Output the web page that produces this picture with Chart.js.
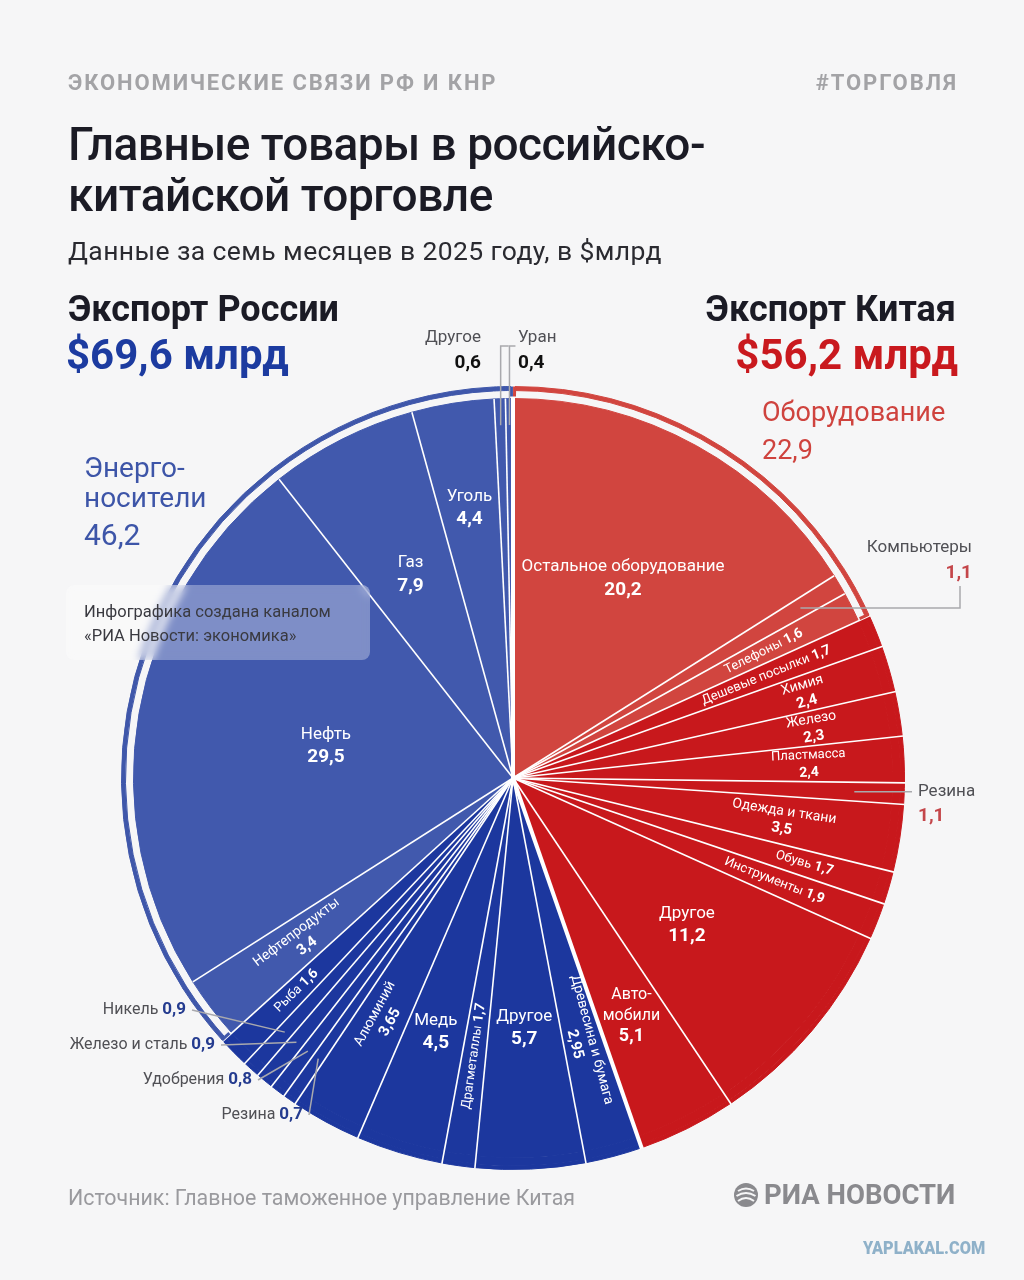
<!DOCTYPE html>
<html lang="ru">
<head>
<meta charset="utf-8">
<script src="https://cdn.jsdelivr.net/npm/chart.js@4.4.1/dist/chart.umd.min.js"></script>
<style>
  html, body { margin: 0; padding: 0; }
  body {
    width: 1024px; height: 1280px; overflow: hidden; position: relative;
    background: #f6f6f7; font-family: Roboto, "Noto Sans", sans-serif;
  }
  #chart { position: absolute; left: 0; top: 0; }
  .t { position: absolute; white-space: nowrap; line-height: 1; }
  .kicker { top: 72px; font-size: 22px; font-weight: 700; color: #a3a3a6; letter-spacing: 1.9px; }
  .title { left: 68px; top: 119px; font-size: 46px; font-weight: 500; line-height: 51px; color: #1b1b25; letter-spacing: -0.5px; }
  .sub { left: 68px; top: 238px; font-size: 26.5px; color: #2a2a30; letter-spacing: 0.4px; }
  .side { top: 291px; font-size: 36px; font-weight: 700; color: #1b1b25; }
  .total { top: 334px; font-size: 42px; font-weight: 700; }
  .grp { font-size: 28px; }
  .note {
    position: absolute; left: 66px; top: 585px; width: 304px; height: 75px;
    border-radius: 8px; background: rgba(255,255,255,0.32);
    backdrop-filter: blur(4px); z-index: 2;
  }
  .note div { position: absolute; left: 18px; font-size: 16.5px; color: #3a3a40; white-space: nowrap; line-height: 1; }
  .foot { left: 68px; top: 1187px; font-size: 21.4px; color: #9a9a9e; }
  .logo { left: 733px; top: 1181px; font-size: 27.5px; font-weight: 700; color: #8a8a8e; display: flex; align-items: center; gap: 5px; }
  .wm { left: 863px; top: 1240px; font-size: 17.5px; font-weight: 900; color: #8fb1c9; transform: scaleX(0.93); transform-origin: left; }
</style>
</head>
<body>
<canvas id="chart" width="1024" height="1280"></canvas>

<div class="t kicker" style="left:68px">ЭКОНОМИЧЕСКИЕ СВЯЗИ РФ И КНР</div>
<div class="t kicker" style="right:66px">#ТОРГОВЛЯ</div>
<div class="t title">Главные товары в российско-<br>китайской торговле</div>
<div class="t sub">Данные за семь месяцев в 2025 году, в $млрд</div>

<div class="t side" style="left:68px">Экспорт России</div>
<div class="t side" style="right:68px">Экспорт Китая</div>
<div class="t total" id="ruTotal" style="left:66px; color:#1c3ba0"></div>
<div class="t total" id="cnTotal" style="right:66px; color:#c9191e"></div>

<div class="t grp" style="left:84px; top:454px; color:#3d55a8">Энерго-</div>
<div class="t grp" style="left:84px; top:484px; color:#3d55a8">носители</div>
<div class="t grp" id="energyTotal" style="left:84px; top:520px; font-size:30px; color:#3d55a8"></div>
<div class="t grp" style="left:762px; top:399px; font-size:27px; color:#cf433e">Оборудование</div>
<div class="t grp" id="equipTotal" style="left:762px; top:437px; font-size:27px; color:#cf433e"></div>

<div class="note">
  <div style="top:19px">Инфографика создана каналом</div>
  <div style="top:43px">«РИА Новости: экономика»</div>
</div>

<div class="t foot">Источник: Главное таможенное управление Китая</div>
<div class="t logo">
  <svg width="26" height="26" viewBox="0 0 26 26">
    <circle cx="13" cy="13" r="12" fill="#8a8a8e"/>
    <path d="M5 9 Q13 4 21 9 M3.5 14 Q13 8 22.5 14 M5 19 Q13 13 21 19" stroke="#f6f6f7" stroke-width="2" fill="none"/>
  </svg>
  <span>РИА НОВОСТИ</span>
</div>
<div class="t wm">YAPLAKAL.COM</div>

<script>
// --- данные (млрд $) ---
// Экспорт Китая: оборудование
const cnEquipNames = ['Остальное оборудование', 'Компьютеры', 'Телефоны'];
const cnEquipValues = [20.2, 1.1, 1.6];
// Экспорт Китая: прочее
const cnOtherNames = ['Дешевые посылки', 'Химия', 'Железо', 'Пластмасса', 'Резина', 'Одежда и ткани', 'Обувь', 'Инструменты', 'Другое', 'Автомобили'];
const cnOtherValues = [1.7, 2.4, 2.3, 2.4, 1.1, 3.5, 1.7, 1.9, 11.2, 5.1];
// Экспорт России: прочее
const ruOtherNames = ['Древесина и бумага', 'Другое', 'Драгметаллы', 'Медь', 'Алюминий', 'Резина', 'Удобрения', 'Железо и сталь', 'Никель', 'Рыба'];
const ruOtherValues = [2.95, 5.7, 1.7, 4.5, 3.65, 0.7, 0.8, 0.9, 0.9, 1.6];
// Экспорт России: энергоносители
const ruEnergyNames = ['Нефтепродукты', 'Нефть', 'Газ', 'Уголь', 'Другое', 'Уран'];
const ruEnergyValues = [3.4, 29.5, 7.9, 4.4, 0.6, 0.4];

const COL = {
  equip: '#d1453f', cnOther: '#c8181c',
  ruOther: '#1c379e', energy: '#4159ad',
  cnText: '#c4464a', ruText: '#243b8f'
};

const fmt = v => String(v).replace('.', ',');
const sum = a => a.reduce((s, v) => s + v, 0);

// порядок по часовой стрелке от 12 часов
const items = [];
cnEquipNames.forEach((n, i) => items.push({ name: n, value: cnEquipValues[i], color: COL.equip, arc: COL.equip, side: 'cn' }));
cnOtherNames.forEach((n, i) => items.push({ name: n, value: cnOtherValues[i], color: COL.cnOther, arc: null, side: 'cn' }));
ruOtherNames.forEach((n, i) => items.push({ name: n, value: ruOtherValues[i], color: COL.ruOther, arc: null, side: 'ru' }));
ruEnergyNames.forEach((n, i) => items.push({ name: n, value: ruEnergyValues[i], color: COL.energy, arc: '#3f57aa', side: 'ru' }));

document.getElementById('ruTotal').textContent = '$' + fmt((sum(ruOtherValues) + sum(ruEnergyValues)).toFixed(1)) + ' млрд';
document.getElementById('cnTotal').textContent = '$' + fmt((sum(cnEquipValues) + sum(cnOtherValues)).toFixed(1)) + ' млрд';
document.getElementById('energyTotal').textContent = fmt(sum(ruEnergyValues).toFixed(1));
document.getElementById('equipTotal').textContent = fmt(sum(cnEquipValues).toFixed(1));

// как подписывать каждый сектор: h - горизонтально внутри, r - вдоль радиуса, o - снаружи с выноской
const itemLayout = [
  { mode: 'h', r: 0.6 },
  { mode: 'o', ar: 0.88, to: [[960, 0], [960, 586]], x: 972, y: 548, align: 'right', two: true },
  { mode: 'r', r: 0.74, one: true },
  { mode: 'r', r: 0.72, one: true },
  { mode: 'r', r: 0.8 },
  { mode: 'r', r: 0.8 },
  { mode: 'r', r: 0.78, fs: 13 },
  { mode: 'o', ar: 0.9, to: [[912, 0]], x: 918, y: 0, align: 'left', two: true },
  { mode: 'r', r: 0.72 },
  { mode: 'r', r: 0.8, one: true },
  { mode: 'r', r: 0.74, one: true },
  { mode: 'h', r: 0.6 },
  { mode: 'h', r: 0.7, text: 'Авто-\nмобили', fs: 16, lh: 21 },
  { mode: 'r', r: 0.72 },
  { mode: 'h', r: 0.66 },
  { mode: 'r', r: 0.74, one: true },
  { mode: 'h', r: 0.7 },
  { mode: 'r', r: 0.72 },
  { mode: 'o', ar: 0.9, to: [[309, 1115]], x: 303, y: 1115, align: 'right' },
  { mode: 'o', ar: 0.9, to: [[258, 1080]], x: 252, y: 1080, align: 'right' },
  { mode: 'o', ar: 0.9, to: [[221, 1045]], x: 215, y: 1045, align: 'right' },
  { mode: 'o', ar: 0.9, to: [[192, 1010]], x: 186, y: 1010, align: 'right' },
  { mode: 'r', r: 0.8, one: true },
  { mode: 'r', r: 0.7 },
  { mode: 'h', r: 0.5 },
  { mode: 'h', r: 0.6 },
  { mode: 'h', r: 0.72 },
  { mode: 'o', ar: 0.93, to: [['a', 346], ['a-8', 346]], x: 481, y: 338, align: 'right', two: true, dark: true },
  { mode: 'o', ar: 0.93, to: [['a', 346], ['a+6', 346]], x: 518, y: 338, align: 'left', two: true, dark: true }
];

function measureMixed(ctx, name, val, x, fsN, fsV, align) {
  ctx.font = `400 ${fsN}px Roboto`;
  const w1 = ctx.measureText(name + ' ').width;
  ctx.font = `700 ${fsV}px Roboto`;
  const w2 = ctx.measureText(val).width;
  const x0 = align === 'right' ? x - w1 - w2 : align === 'left' ? x : x - (w1 + w2) / 2;
  return { x0, w1, w2 };
}

const sliceLabels = {
  id: 'sliceLabels',
  afterDatasetsDraw(chart) {
    const ctx = chart.ctx;
    const meta = chart.getDatasetMeta(2);
    const outerR = chart.getDatasetMeta(0).data[0].outerRadius;
    const cx = meta.data[0].x, cy = meta.data[0].y;
    const n = meta.data.length;

    // белые границы между секторами
    meta.data.forEach((arc, i) => {
      const prev = items[(i - 1 + n) % n];
      const grouped = items[i].arc && prev.arc && items[i].arc === prev.arc;
      const r = grouped ? arc.outerRadius : outerR + 1;
      const a = arc.startAngle;
      ctx.save();
      ctx.strokeStyle = '#ffffff';
      ctx.lineWidth = items[i].side !== prev.side ? 4 : 1.6;
      ctx.beginPath();
      ctx.moveTo(cx, cy);
      ctx.lineTo(cx + Math.cos(a) * r, cy + Math.sin(a) * r);
      ctx.stroke();
      ctx.restore();
    });

    // засечки на концах дуг групп
    meta.data.forEach((arc, i) => {
      const it = items[i];
      if (!it.arc) return;
      const prev = items[(i - 1 + n) % n];
      const next = items[(i + 1) % n];
      const ends = [];
      if (prev.arc !== it.arc) ends.push(arc.startAngle + 0.004);
      if (next.arc !== it.arc) ends.push(arc.endAngle - 0.004);
      ends.forEach(a => {
        ctx.save();
        ctx.strokeStyle = it.arc;
        ctx.lineWidth = 3;
        ctx.beginPath();
        ctx.moveTo(cx + Math.cos(a) * (arc.outerRadius + 2), cy + Math.sin(a) * (arc.outerRadius + 2));
        ctx.lineTo(cx + Math.cos(a) * outerR, cy + Math.sin(a) * outerR);
        ctx.stroke();
        ctx.restore();
      });
    });

    meta.data.forEach((arc, i) => {
      const L = itemLayout[i];
      const it = items[i];
      const p = arc.getProps(['x', 'y', 'startAngle', 'endAngle', 'outerRadius'], true);
      const mid = (p.startAngle + p.endAngle) / 2;
      const c = Math.cos(mid), s = Math.sin(mid);
      const R = p.outerRadius;
      const val = fmt(it.value);
      ctx.save();
      ctx.textBaseline = 'middle';
      ctx.fillStyle = '#ffffff';

      if (L.mode === 'h') {
        const px = p.x + c * R * L.r, py = p.y + s * R * L.r;
        const lines = (L.text || it.name).split('\n');
        const fs = L.fs || 17, lh = L.lh || 23;
        const y0 = py - lines.length * lh / 2;
        ctx.textAlign = 'center';
        ctx.font = `400 ${fs}px Roboto`;
        lines.forEach((t, k) => ctx.fillText(t, px, y0 + k * lh));
        ctx.font = `700 ${fs + 2}px Roboto`;
        ctx.fillText(val, px, y0 + lines.length * lh);
      } else if (L.mode === 'r') {
        const px = p.x + c * R * L.r, py = p.y + s * R * L.r;
        ctx.translate(px, py);
        ctx.rotate(c < -0.01 ? mid + Math.PI : mid);
        if (L.one) {
          const m = measureMixed(ctx, it.name, val, 0, 13, 14, 'center');
          ctx.textAlign = 'left';
          ctx.font = '400 13px Roboto';
          ctx.fillText(it.name, m.x0, 0);
          ctx.font = '700 14px Roboto';
          ctx.fillText(val, m.x0 + m.w1, 0);
        } else {
          const fs = L.fs || 14;
          ctx.textAlign = 'center';
          ctx.font = `400 ${fs}px Roboto`;
          ctx.fillText(it.name, 0, -8.5);
          ctx.font = `700 ${fs + 1}px Roboto`;
          ctx.fillText(val, 0, 9);
        }
      } else if (L.mode === 'o') {
        const ax = p.x + c * R * L.ar, ay = p.y + s * R * L.ar;
        const pts = L.to.map(([x, y]) => {
          let xx = x;
          if (x === 'a') xx = ax;
          else if (typeof x === 'string') xx = ax + parseFloat(x.slice(1)) * (x[1] === '-' ? -1 : 1);
          return [xx, y === 0 ? ay : y];
        });
        ctx.strokeStyle = '#a9a9ad';
        ctx.lineWidth = 1.5;
        ctx.beginPath();
        ctx.moveTo(ax, ay);
        pts.forEach(q => ctx.lineTo(q[0], q[1]));
        ctx.stroke();

        const valColor = L.dark ? '#111111' : (it.side === 'cn' ? COL.cnText : COL.ruText);
        if (L.two) {
          const ly = L.y === 0 ? ay : L.y;
          ctx.textAlign = L.align;
          ctx.fillStyle = '#505055';
          ctx.font = '400 17px Roboto';
          ctx.fillText(it.name, L.x, ly);
          ctx.fillStyle = valColor;
          ctx.font = '700 19px Roboto';
          ctx.fillText(val, L.x, ly + 25);
        } else {
          const m = measureMixed(ctx, it.name, val, L.x, 16, 17, L.align);
          ctx.textAlign = 'left';
          ctx.fillStyle = '#505055';
          ctx.font = '400 16px Roboto';
          ctx.fillText(it.name, m.x0, L.y);
          ctx.fillStyle = valColor;
          ctx.font = '700 17px Roboto';
          ctx.fillText(val, m.x0 + m.w1, L.y);
        }
      }
      ctx.restore();
    });
  }
};

Chart.defaults.font.family = 'Roboto';

const values = items.map(d => d.value);
const ringColors = items.map(d => d.arc || d.color);
const gapColors = items.map(d => d.arc ? 'rgba(0,0,0,0)' : d.color);
const sliceColors = items.map(d => d.color);

new Chart(document.getElementById('chart'), {
  type: 'pie',
  data: {
    labels: items.map(d => d.name),
    datasets: [
      { // внешняя дуга групп
        data: values,
        weight: 4,
        backgroundColor: ringColors,
        borderColor: ringColors,
        borderWidth: 1,
        hoverBorderWidth: 1
      },
      { // зазор между дугой и секторами
        data: values,
        weight: 8,
        backgroundColor: gapColors,
        borderColor: gapColors,
        borderWidth: 1,
        hoverBorderWidth: 1
      },
      {
        data: values,
        weight: 380,
        backgroundColor: sliceColors,
        borderColor: sliceColors,
        borderWidth: 1,
        hoverBorderWidth: 1
      }
    ]
  },
  options: {
    responsive: false,
    animation: false,
    events: [],
    rotation: 0,
    hoverOffset: 0,
    layout: { padding: { left: 121, right: 119, top: 386, bottom: 110 } },
    plugins: {
      legend: { display: false },
      tooltip: { enabled: false }
    }
  },
  plugins: [sliceLabels]
});
</script>
</body>
</html>
